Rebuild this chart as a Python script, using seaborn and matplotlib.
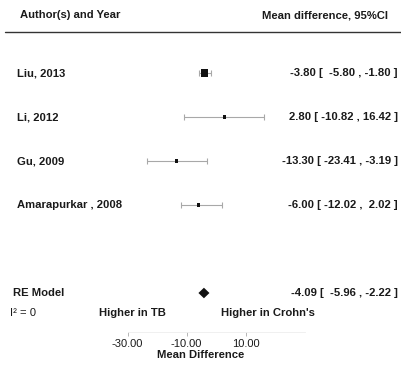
import numpy as np
import pandas as pd
import matplotlib
matplotlib.use("Agg")
import matplotlib.pyplot as plt
import seaborn as sns

# ---- data ----
studies = ["Liu, 2013", "Li, 2012", "Gu, 2009", "Amarapurkar , 2008"]
estimates = [-3.80, 2.80, -13.30, -6.00]
ci_low = [-5.80, -10.82, -23.41, -12.02]
ci_high = [-1.80, 16.42, -3.19, 2.02]
weights = [0.96, 0.02, 0.037, 0.078]
re_label = "RE Model"
re_est, re_low, re_high = -4.09, -5.96, -2.22
xticks = [-30, -10, 10]
xtick_labels = ["-30.00", "-10.00", "10.00"]
header_left = "Author(s) and Year"
header_right = "Mean difference, 95%CI"
hetero = "I\u00b2 = 0"
side_left = "Higher in TB"
side_right = "Higher in Crohn's"
xlabel = "Mean Difference"

sns.set_theme(style="white")
plt.rcParams['font.family'] = ['Liberation Sans', 'DejaVu Sans']

W, H = 401, 367
fig = plt.figure(figsize=(W / 100, H / 100), dpi=100)
ax_bottom_px = 332
ax = fig.add_axes([0, (H - ax_bottom_px) / H, 1, ax_bottom_px / H])

# x scale: 0 at ~216px, 2.95 px/unit
px_per_unit = 2.95
zero_px = 216
ax.set_xlim(-zero_px / px_per_unit, (W - zero_px) / px_per_unit)
# y scale: rows spaced 44 px; row 1 at 205 px
row_px = 44
ax.set_ylim(1 - (ax_bottom_px - 205) / row_px, 1 + 205 / row_px)

n = len(studies)
rows = list(range(n, 0, -1))  # 4,3,2,1
df = pd.DataFrame({"study": studies, "est": estimates, "lo": ci_low,
                   "hi": ci_high, "w": weights, "row": rows})

# CI lines
ax.errorbar(df["est"], df["row"],
            xerr=[df["est"] - df["lo"], df["hi"] - df["est"]],
            fmt="none", ecolor="#a8a8a8", elinewidth=0.8, capsize=2.5,
            capthick=0.8, zorder=1)
# point estimates
sns.scatterplot(data=df, x="est", y="row", size="w", sizes=(5, 27),
                marker="s", color="#111111", edgecolor="none",
                legend=False, ax=ax, zorder=3)

# RE diamond
re_row = -1
dh = 0.12
ax.fill([re_low, re_est, re_high, re_est],
        [re_row, re_row + dh, re_row, re_row - dh],
        color="#111111", zorder=3, lw=0)

# texts
tcol = "#1a1a1a"
fs = 8.1
fw = "bold"
bt = ax.get_yaxis_transform()  # x axes frac, y data
left_x = 17 / W
right_x = 398 / W
header_row = 1 + (205 - 15) / row_px
ax.text(20 / W, header_row, header_left, transform=bt, ha="left",
        va="center", fontsize=fs, color=tcol, fontweight=fw)
ax.text(388 / W, header_row, header_right, transform=bt, ha="right",
        va="center", fontsize=fs, color=tcol, fontweight=fw)
line_row = 1 + (205 - 32) / row_px
ax.plot([5 / W, 1.0], [line_row, line_row], transform=bt, color="#333333",
        lw=1.0)


def ci_text(e, lo, hi):
    return f"{e:.2f} [ {lo:6.2f} , {hi:5.2f} ]"


for s, e, lo, hi, r in zip(studies, estimates, ci_low, ci_high, rows):
    ax.text(left_x, r, s, transform=bt, ha="left", va="center",
            fontsize=fs, color=tcol, fontweight=fw)
    ax.text(right_x, r, ci_text(e, lo, hi), transform=bt,
            ha="right", va="center", fontsize=fs, color=tcol, fontweight=fw)

ax.text(13 / W, re_row, re_label, transform=bt, ha="left", va="center",
        fontsize=fs, color=tcol, fontweight=fw)
ax.text(right_x, re_row, ci_text(re_est, re_low, re_high),
        transform=bt, ha="right", va="center", fontsize=fs, color=tcol,
        fontweight=fw)

side_row = 1 - (313 - 205) / row_px
ax.text(10 / W, side_row, hetero, transform=bt, ha="left", va="center",
        fontsize=fs, color=tcol)
ax.text(132 / W, side_row, side_left, transform=bt, ha="center",
        va="center", fontsize=fs, color=tcol, fontweight=fw)
ax.text(268 / W, side_row, side_right, transform=bt, ha="center",
        va="center", fontsize=fs, color=tcol, fontweight=fw)

# axis
for sp in ["top", "left", "right"]:
    ax.spines[sp].set_visible(False)
ax.spines["bottom"].set_color("#eeeeee")
ax.spines["bottom"].set_linewidth(0.6)
ax.spines["bottom"].set_bounds(-30, 30)
ax.set_yticks([])
ax.set_xticks(xticks)
ax.set_xticklabels(xtick_labels)
ax.tick_params(axis="x", bottom=True, length=3, width=0.6, color="#aaaaaa",
               labelsize=fs - 0.1, labelcolor=tcol, pad=2)
ax.set_xlabel(xlabel, fontsize=fs, color=tcol, labelpad=1, fontweight=fw)
ax.set_ylabel("")

fig.savefig("out.png", dpi=100, facecolor="white")
